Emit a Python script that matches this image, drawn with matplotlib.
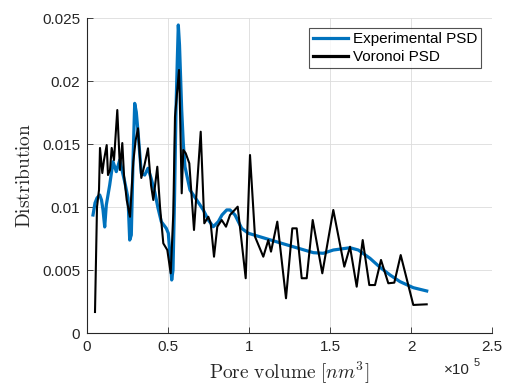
import matplotlib
matplotlib.use("Agg")
import matplotlib.pyplot as plt

# x in units of 1e5 nm^3
exp_x = [0.0370, 0.0494, 0.0617, 0.0784, 0.0895, 0.0988, 0.1093, 0.1191, 0.1401, 0.1605,
         0.1809, 0.2019, 0.2160, 0.2327, 0.2531, 0.2636, 0.2735, 0.2840, 0.2944, 0.3043,
         0.3148, 0.3352, 0.3562, 0.3765, 0.3951, 0.4179, 0.4383, 0.4586, 0.4895, 0.5019,
         0.5123, 0.5228, 0.5309, 0.5401, 0.5494, 0.5574, 0.5636, 0.5710, 0.5846, 0.5944,
         0.6049, 0.6358, 0.6772, 0.7179, 0.7488, 0.7796, 0.8105, 0.8333, 0.8623, 0.8827,
         0.9136, 0.9549, 0.9957, 1.0988, 1.2019, 1.3043, 1.3969, 1.4586, 1.5204, 1.6235,
         1.6747, 1.7469, 1.8086, 1.8704, 1.9321, 2.0142, 2.0969]
exp_y = [0.00939, 0.01034, 0.01074, 0.01098, 0.01058, 0.00979, 0.00844, 0.01018, 0.01177, 0.01362,
         0.01283, 0.01375, 0.01296, 0.01203, 0.01074, 0.00740, 0.00780, 0.01362, 0.01825, 0.01756,
         0.01600, 0.01270, 0.01256, 0.01310, 0.01233, 0.01124, 0.00994, 0.00886, 0.00833, 0.00794,
         0.00621, 0.00423, 0.00502, 0.01058, 0.01772, 0.02169, 0.02447, 0.02288, 0.01772, 0.01508,
         0.01322, 0.01137, 0.01058, 0.00979, 0.00899, 0.00846, 0.00886, 0.00939, 0.00979, 0.00979,
         0.00939, 0.00833, 0.00794, 0.00754, 0.00714, 0.00675, 0.00640, 0.00635, 0.00661, 0.00679,
         0.00661, 0.00595, 0.00524, 0.00463, 0.00410, 0.00362, 0.00336]

vor_x = [0.0494, 0.0617, 0.0741, 0.0802, 0.0944, 0.1049, 0.1216, 0.1296, 0.1420, 0.1525,
         0.1667, 0.1870, 0.2037, 0.2179, 0.2284, 0.2451, 0.2654, 0.2858, 0.3006, 0.3148,
         0.3352, 0.3549, 0.3765, 0.3951, 0.4093, 0.4340, 0.4506, 0.4710, 0.4957, 0.5167,
         0.5327, 0.5432, 0.5537, 0.5679, 0.5741, 0.5846, 0.5944, 0.6093, 0.6315, 0.6605,
         0.7019, 0.7241, 0.7488, 0.7636, 0.7840, 0.8043, 0.8315, 0.8580, 0.8827, 0.9302,
         0.9796, 1.0062, 1.0370, 1.0883, 1.1191, 1.1358, 1.1747, 1.2284, 1.2673, 1.2944,
         1.3253, 1.3562, 1.3932, 1.4525, 1.5204, 1.5883, 1.6235, 1.6648, 1.7019, 1.7426,
         1.7778, 1.8148, 1.8599, 1.8969, 1.9364, 2.0142, 2.0969]
vor_y = [0.00169, 0.01002, 0.01137, 0.01471, 0.01272, 0.01375, 0.01494, 0.01256, 0.01296, 0.01471,
         0.01375, 0.01772, 0.01296, 0.01510, 0.01256, 0.01058, 0.00925, 0.01362, 0.01534, 0.01627,
         0.01233, 0.01336, 0.01468, 0.01177, 0.01058, 0.01322, 0.01005, 0.00714, 0.00661, 0.00476,
         0.00952, 0.01719, 0.01878, 0.02090, 0.01772, 0.01111, 0.01455, 0.01429, 0.01349, 0.00820,
         0.01600, 0.00873, 0.00925, 0.00873, 0.00608, 0.00846, 0.00899, 0.00846, 0.00939, 0.01005,
         0.00437, 0.01415, 0.00767, 0.00608, 0.00740, 0.00648, 0.00886, 0.00278, 0.00833, 0.00833,
         0.00437, 0.00437, 0.00899, 0.00476, 0.00979, 0.00529, 0.00687, 0.00370, 0.00740, 0.00383,
         0.00383, 0.00582, 0.00397, 0.00402, 0.00621, 0.00225, 0.00230]

xticks = [0, 0.5, 1, 1.5, 2, 2.5]
xticklabels = ["0", "0.5", "1", "1.5", "2", "2.5"]
yticks = [0, 0.005, 0.01, 0.015, 0.02, 0.025]
yticklabels = ["0", "0.005", "0.01", "0.015", "0.02", "0.025"]

plt.rcParams['mathtext.fontset'] = 'cm'
plt.rcParams['font.family'] = ['Liberation Sans', 'DejaVu Sans']

fig = plt.figure(figsize=(5.09, 3.85), dpi=100)
ax = fig.add_axes([87/509, 1 - 333.3/385, 405/509, 315/385])

ax.plot(exp_x, exp_y, color='#0072BD', lw=2.3, label='Experimental PSD', zorder=3)
ax.plot(vor_x, vor_y, color='black', lw=1.5, label='Voronoi PSD', zorder=4)

ax.set_xlim(0, 2.5)
ax.set_ylim(0, 0.025)
ax.set_xticks(xticks)
ax.set_xticklabels(xticklabels)
ax.set_yticks(yticks)
ax.set_yticklabels(yticklabels)
ax.grid(True, color='#dcdcdc', lw=0.6)
ax.set_axisbelow(True)
for s in ['top', 'right']:
    ax.spines[s].set_visible(False)
for s in ['left', 'bottom']:
    ax.spines[s].set_color('#262626')
    ax.spines[s].set_linewidth(0.8)
ax.tick_params(direction='in', length=4, width=0.6, colors='#262626', labelsize=11, pad=5)

ax.set_ylabel(r'$\mathrm{Distribution}$', fontsize=14, color='#262626', labelpad=6)
ax.set_xlabel(r'$\mathrm{Pore\ volume}\ [nm^3]$', fontsize=14, color='#262626', labelpad=4)

fig.text(444/509, 1 - 374/385, '×10', fontsize=11, color='#262626', va='baseline')
fig.text(474/509, 1 - 366/385, '5', fontsize=8, color='#262626', va='baseline')

leg = ax.legend(loc='upper right', bbox_to_anchor=(481/509, 1 - 28.3/385), bbox_transform=fig.transFigure,
                fontsize=11, frameon=True, fancybox=False, edgecolor='#262626',
                handlelength=2.3, handletextpad=0.3, borderpad=0.25, labelspacing=0.25,
                borderaxespad=0)
leg.get_frame().set_linewidth(0.8)
for line in leg.get_lines():
    line.set_linewidth(2.3)

fig.savefig('out.png', dpi=100)
